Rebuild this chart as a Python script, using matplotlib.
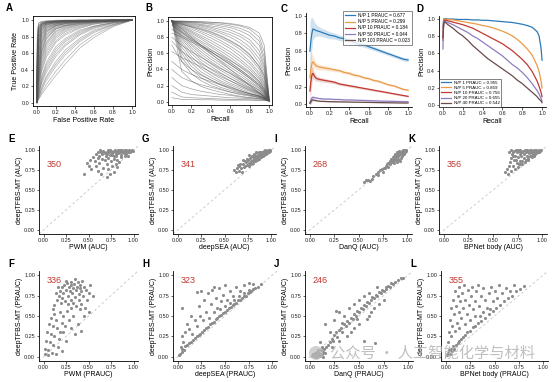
import matplotlib
matplotlib.use("Agg")
import matplotlib.pyplot as plt
from matplotlib.patches import Ellipse
import numpy as np

plt.rcParams['font.family'] = ['Liberation Sans', 'DejaVu Sans']
plt.rcParams['font.size'] = 5
plt.rcParams['axes.linewidth'] = 0.6

W, H = 554, 382
fig = plt.figure(figsize=(W / 100, H / 100), dpi=100)

# ---------------- data ----------------
# A: ROC curves (tpr at fixed fpr knots)
roc_fpr = [0, 0.005, 0.02, 0.05, 0.1, 0.2, 0.3, 0.45, 0.6, 0.8, 1.0]
roc_tpr = [
    [0, 0.88, 0.97, 0.985, 0.99, 1, 1, 1, 1, 1, 1],
    [0, 0.85, 0.96, 0.98, 0.99, 0.995, 1, 1, 1, 1, 1],
    [0, 0.80, 0.94, 0.97, 0.98, 0.99, 0.99, 1, 1, 1, 1],
    [0, 0.75, 0.93, 0.97, 0.985, 0.99, 0.995, 1, 1, 1, 1],
    [0, 0.72, 0.91, 0.965, 0.98, 0.99, 0.995, 1, 1, 1, 1],
    [0, 0.70, 0.92, 0.96, 0.98, 0.99, 0.99, 0.995, 1, 1, 1],
    [0, 0.66, 0.90, 0.955, 0.975, 0.985, 0.99, 0.995, 1, 1, 1],
    [0, 0.62, 0.88, 0.95, 0.97, 0.985, 0.99, 0.995, 1, 1, 1],
    [0, 0.60, 0.89, 0.95, 0.975, 0.985, 0.99, 0.995, 1, 1, 1],
    [0, 0.58, 0.87, 0.945, 0.97, 0.985, 0.99, 0.995, 1, 1, 1],
    [0, 0.55, 0.85, 0.94, 0.97, 0.98, 0.99, 0.99, 0.995, 1, 1],
    [0, 0.52, 0.84, 0.935, 0.965, 0.98, 0.99, 0.995, 1, 1, 1],
    [0, 0.50, 0.83, 0.93, 0.965, 0.98, 0.99, 0.99, 0.995, 1, 1],
    [0, 0.47, 0.79, 0.915, 0.955, 0.975, 0.985, 0.99, 0.995, 1, 1],
    [0, 0.45, 0.80, 0.92, 0.96, 0.98, 0.985, 0.99, 0.995, 1, 1],
    [0, 0.43, 0.78, 0.91, 0.955, 0.975, 0.985, 0.99, 0.995, 1, 1],
    [0, 0.40, 0.75, 0.90, 0.95, 0.975, 0.98, 0.99, 0.995, 1, 1],
    [0, 0.38, 0.73, 0.89, 0.945, 0.97, 0.98, 0.99, 0.995, 1, 1],
    [0, 0.36, 0.72, 0.88, 0.94, 0.97, 0.98, 0.99, 0.995, 1, 1],
    [0, 0.35, 0.70, 0.87, 0.94, 0.97, 0.98, 0.99, 0.99, 1, 1],
    [0, 0.32, 0.67, 0.86, 0.93, 0.965, 0.975, 0.985, 0.99, 1, 1],
    [0, 0.30, 0.64, 0.84, 0.92, 0.96, 0.975, 0.985, 0.99, 1, 1],
    [0, 0.28, 0.62, 0.83, 0.915, 0.955, 0.97, 0.985, 0.99, 1, 1],
    [0, 0.27, 0.61, 0.82, 0.91, 0.955, 0.97, 0.98, 0.99, 1, 1],
    [0, 0.25, 0.58, 0.80, 0.90, 0.95, 0.97, 0.98, 0.99, 1, 1],
    [0, 0.24, 0.55, 0.78, 0.89, 0.945, 0.965, 0.98, 0.99, 0.995, 1],
    [0, 0.22, 0.52, 0.76, 0.88, 0.94, 0.96, 0.98, 0.99, 0.995, 1],
    [0, 0.20, 0.49, 0.74, 0.87, 0.935, 0.96, 0.975, 0.985, 0.995, 1],
    [0, 0.19, 0.47, 0.72, 0.86, 0.93, 0.955, 0.975, 0.985, 0.995, 1],
    [0, 0.18, 0.46, 0.71, 0.85, 0.93, 0.955, 0.975, 0.985, 0.995, 1],
    [0, 0.16, 0.43, 0.68, 0.83, 0.92, 0.945, 0.97, 0.98, 0.99, 1],
    [0, 0.15, 0.40, 0.66, 0.82, 0.91, 0.94, 0.97, 0.98, 0.99, 1],
    [0, 0.14, 0.38, 0.63, 0.80, 0.90, 0.935, 0.965, 0.98, 0.99, 1],
    [0, 0.13, 0.36, 0.62, 0.78, 0.895, 0.93, 0.96, 0.98, 0.99, 1],
    [0, 0.12, 0.35, 0.60, 0.77, 0.89, 0.93, 0.96, 0.98, 0.99, 1],
    [0, 0.11, 0.32, 0.57, 0.74, 0.87, 0.92, 0.955, 0.975, 0.99, 1],
    [0, 0.10, 0.30, 0.55, 0.72, 0.86, 0.91, 0.95, 0.975, 0.99, 1],
    [0, 0.09, 0.28, 0.52, 0.70, 0.84, 0.90, 0.945, 0.97, 0.99, 1],
    [0, 0.08, 0.26, 0.49, 0.67, 0.82, 0.89, 0.94, 0.97, 0.99, 1],
    [0, 0.07, 0.24, 0.46, 0.64, 0.80, 0.875, 0.93, 0.965, 0.985, 1],
    [0, 0.06, 0.22, 0.43, 0.61, 0.78, 0.86, 0.92, 0.96, 0.985, 1],
    [0, 0.05, 0.20, 0.40, 0.58, 0.75, 0.84, 0.91, 0.955, 0.98, 1],
    [0, 0.05, 0.18, 0.37, 0.55, 0.73, 0.82, 0.90, 0.95, 0.98, 1],
    [0, 0.04, 0.15, 0.32, 0.49, 0.68, 0.78, 0.88, 0.93, 0.975, 1],
    [0, 0.03, 0.14, 0.30, 0.46, 0.65, 0.76, 0.865, 0.925, 0.97, 1],
    [0, 0.03, 0.12, 0.27, 0.43, 0.62, 0.74, 0.85, 0.92, 0.97, 1],
    [0, 0.02, 0.11, 0.25, 0.40, 0.59, 0.71, 0.835, 0.91, 0.965, 1],
    [0, 0.02, 0.10, 0.23, 0.37, 0.56, 0.69, 0.82, 0.90, 0.96, 1],
    [0, 0.02, 0.08, 0.19, 0.32, 0.50, 0.64, 0.78, 0.88, 0.95, 1],
    [0, 0.015, 0.07, 0.17, 0.30, 0.47, 0.61, 0.76, 0.865, 0.945, 1],
    [0, 0.01, 0.06, 0.15, 0.27, 0.44, 0.58, 0.74, 0.85, 0.94, 1],
    [0, 0.01, 0.05, 0.12, 0.22, 0.38, 0.52, 0.70, 0.82, 0.93, 1],
    [0, 0.01, 0.04, 0.10, 0.18, 0.33, 0.47, 0.66, 0.79, 0.92, 1],
]

# B: PR curves (precision at fixed recall knots)
pr_recall = [0, 0.1, 0.2, 0.3, 0.4, 0.5, 0.6, 0.7, 0.8, 0.9, 0.95, 1.0]
pr_precision = [
    [1.0, 1.0, 0.995, 0.99, 0.985, 0.98, 0.97, 0.95, 0.92, 0.85, 0.70, 0.05],
    [1.0, 0.998, 0.995, 0.99, 0.985, 0.975, 0.96, 0.94, 0.90, 0.80, 0.62, 0.06],
    [1.0, 0.995, 0.99, 0.98, 0.97, 0.96, 0.94, 0.91, 0.86, 0.75, 0.55, 0.03],
    [1.0, 0.99, 0.985, 0.975, 0.96, 0.94, 0.92, 0.88, 0.82, 0.70, 0.50, 0.04],
    [1.0, 0.99, 0.98, 0.96, 0.94, 0.92, 0.89, 0.84, 0.77, 0.63, 0.45, 0.03],
    [1.0, 0.985, 0.97, 0.95, 0.925, 0.895, 0.86, 0.81, 0.73, 0.58, 0.42, 0.03],
    [1.0, 0.98, 0.96, 0.94, 0.91, 0.87, 0.83, 0.77, 0.68, 0.53, 0.38, 0.02],
    [0.98, 0.96, 0.93, 0.90, 0.86, 0.81, 0.75, 0.68, 0.58, 0.44, 0.32, 0.05],
    [1.0, 0.975, 0.95, 0.925, 0.89, 0.85, 0.80, 0.73, 0.64, 0.48, 0.34, 0.02],
    [1.0, 0.97, 0.94, 0.91, 0.87, 0.82, 0.76, 0.69, 0.59, 0.43, 0.30, 0.02],
    [1.0, 0.965, 0.93, 0.89, 0.845, 0.79, 0.73, 0.65, 0.55, 0.40, 0.27, 0.02],
    [1.0, 0.96, 0.92, 0.87, 0.82, 0.76, 0.69, 0.61, 0.50, 0.36, 0.24, 0.02],
    [1.0, 0.95, 0.90, 0.85, 0.79, 0.73, 0.66, 0.57, 0.47, 0.33, 0.22, 0.02],
    [1.0, 0.94, 0.88, 0.82, 0.76, 0.69, 0.62, 0.53, 0.43, 0.30, 0.20, 0.02],
    [1.0, 0.93, 0.865, 0.80, 0.73, 0.66, 0.585, 0.50, 0.40, 0.28, 0.18, 0.02],
    [1.0, 0.92, 0.85, 0.78, 0.70, 0.63, 0.55, 0.46, 0.37, 0.25, 0.16, 0.02],
    [1.0, 0.91, 0.83, 0.75, 0.68, 0.60, 0.52, 0.43, 0.34, 0.23, 0.15, 0.02],
    [1.0, 0.90, 0.81, 0.73, 0.65, 0.57, 0.49, 0.40, 0.31, 0.21, 0.13, 0.02],
    [1.0, 0.90, 0.80, 0.70, 0.60, 0.50, 0.40, 0.30, 0.20, 0.11, 0.06, 0.01],
    [1.0, 0.88, 0.79, 0.70, 0.62, 0.54, 0.46, 0.38, 0.29, 0.19, 0.12, 0.02],
    [1.0, 0.87, 0.77, 0.68, 0.59, 0.51, 0.43, 0.35, 0.26, 0.17, 0.11, 0.02],
    [1.0, 0.86, 0.75, 0.65, 0.56, 0.48, 0.40, 0.32, 0.24, 0.16, 0.10, 0.02],
    [1.0, 0.84, 0.72, 0.62, 0.53, 0.45, 0.37, 0.29, 0.22, 0.14, 0.09, 0.02],
    [1.0, 0.82, 0.70, 0.59, 0.50, 0.42, 0.35, 0.27, 0.20, 0.12, 0.08, 0.02],
    [1.0, 0.80, 0.67, 0.56, 0.47, 0.39, 0.32, 0.25, 0.18, 0.11, 0.07, 0.02],
    [1.0, 0.78, 0.64, 0.52, 0.44, 0.36, 0.29, 0.22, 0.16, 0.10, 0.07, 0.01],
    [1.0, 0.75, 0.60, 0.49, 0.40, 0.33, 0.26, 0.20, 0.14, 0.09, 0.06, 0.01],
    [1.0, 0.72, 0.56, 0.45, 0.36, 0.29, 0.23, 0.18, 0.13, 0.08, 0.05, 0.01],
    [1.0, 0.68, 0.52, 0.41, 0.33, 0.26, 0.21, 0.16, 0.11, 0.07, 0.05, 0.01],
    [1.0, 0.64, 0.48, 0.37, 0.30, 0.24, 0.19, 0.14, 0.10, 0.07, 0.04, 0.01],
    [1.0, 0.60, 0.44, 0.34, 0.27, 0.21, 0.16, 0.12, 0.09, 0.06, 0.04, 0.01],
    [1.0, 0.55, 0.40, 0.30, 0.23, 0.18, 0.14, 0.11, 0.08, 0.05, 0.04, 0.01],
    [1.0, 0.50, 0.35, 0.26, 0.20, 0.16, 0.12, 0.09, 0.07, 0.05, 0.03, 0.01],
    [1.0, 0.38, 0.26, 0.19, 0.15, 0.12, 0.09, 0.07, 0.05, 0.04, 0.03, 0.01],
    [0.95, 0.86, 0.78, 0.70, 0.62, 0.54, 0.46, 0.38, 0.29, 0.19, 0.12, 0.02],
    [0.90, 0.82, 0.76, 0.70, 0.64, 0.58, 0.51, 0.44, 0.36, 0.25, 0.16, 0.02],
    [0.85, 0.80, 0.74, 0.68, 0.62, 0.55, 0.48, 0.40, 0.31, 0.21, 0.14, 0.02],
    [0.80, 0.70, 0.62, 0.55, 0.48, 0.41, 0.35, 0.28, 0.21, 0.14, 0.09, 0.01],
    [0.75, 0.62, 0.54, 0.47, 0.41, 0.35, 0.29, 0.23, 0.17, 0.11, 0.07, 0.01],
    [0.70, 0.50, 0.40, 0.33, 0.27, 0.22, 0.18, 0.14, 0.10, 0.07, 0.05, 0.01],
    [0.62, 0.55, 0.49, 0.43, 0.37, 0.31, 0.26, 0.20, 0.15, 0.10, 0.06, 0.01],
    [0.50, 0.40, 0.34, 0.29, 0.25, 0.21, 0.17, 0.13, 0.10, 0.07, 0.05, 0.01],
    [0.40, 0.30, 0.25, 0.21, 0.18, 0.15, 0.12, 0.10, 0.08, 0.06, 0.04, 0.01],
    [0.30, 0.20, 0.16, 0.13, 0.11, 0.09, 0.08, 0.06, 0.05, 0.04, 0.03, 0.01],
    [0.20, 0.12, 0.09, 0.08, 0.07, 0.06, 0.05, 0.045, 0.04, 0.03, 0.025, 0.01],
    [0.12, 0.06, 0.05, 0.045, 0.04, 0.035, 0.03, 0.03, 0.025, 0.02, 0.02, 0.01],
    [0.05, 0.03, 0.03, 0.025, 0.025, 0.02, 0.02, 0.02, 0.02, 0.015, 0.015, 0.01],
]

# C: mean PR curves per N/P ratio with spread
c_recall = [0, 0.01, 0.02, 0.03, 0.05, 0.07, 0.1, 0.15, 0.2, 0.25, 0.3, 0.35, 0.4,
            0.45, 0.5, 0.55, 0.6, 0.65, 0.7, 0.75, 0.8, 0.85, 0.9, 0.95, 1.0]
c_labels = ["N/P 1 PRAUC = 0.677", "N/P 5 PRAUC = 0.299", "N/P 10 PRAUC = 0.184",
            "N/P 50 PRAUC = 0.044", "N/P 100 PRAUC = 0.023"]
c_prec = [
    [0.60, 0.72, 0.80, 0.85, 0.84, 0.83, 0.82, 0.80, 0.78, 0.77, 0.75, 0.74, 0.72,
     0.70, 0.68, 0.67, 0.65, 0.63, 0.61, 0.59, 0.57, 0.55, 0.53, 0.51, 0.50],
    [0.30, 0.40, 0.46, 0.48, 0.45, 0.43, 0.42, 0.41, 0.40, 0.39, 0.38, 0.36, 0.35,
     0.33, 0.32, 0.30, 0.29, 0.27, 0.26, 0.24, 0.22, 0.21, 0.19, 0.17, 0.16],
    [0.15, 0.26, 0.33, 0.35, 0.31, 0.29, 0.28, 0.27, 0.26, 0.25, 0.23, 0.22, 0.21,
     0.20, 0.19, 0.18, 0.17, 0.16, 0.15, 0.14, 0.13, 0.12, 0.11, 0.10, 0.09],
    [0.02, 0.05, 0.07, 0.08, 0.075, 0.07, 0.065, 0.06, 0.06, 0.055, 0.055, 0.05, 0.05,
     0.048, 0.046, 0.044, 0.042, 0.04, 0.038, 0.036, 0.035, 0.034, 0.032, 0.031, 0.03],
    [0.01, 0.03, 0.045, 0.05, 0.045, 0.04, 0.035, 0.033, 0.03, 0.029, 0.028, 0.027, 0.026,
     0.025, 0.024, 0.023, 0.022, 0.021, 0.02, 0.019, 0.018, 0.017, 0.016, 0.015, 0.015],
]
c_spread = [0.32, 0.26, 0.18, 0.12, 0.08, 0.06, 0.05, 0.045, 0.04, 0.035, 0.03, 0.03, 0.03,
            0.028, 0.026, 0.025, 0.024, 0.023, 0.022, 0.021, 0.02, 0.02, 0.02, 0.02, 0.02]
c_spread_scale = [1.0, 0.6, 0.5, 0.15, 0.1]

# D: PR curves per N/P ratio
d_recall = [0, 0.005, 0.01, 0.02, 0.05, 0.1, 0.15, 0.2, 0.25, 0.3, 0.35, 0.4, 0.45,
            0.5, 0.55, 0.6, 0.65, 0.7, 0.75, 0.8, 0.85, 0.9, 0.95, 0.97, 0.99, 1.0]
d_labels = ["N/P 1 PRAUC = 0.955", "N/P 5 PRAUC = 0.869", "N/P 10 PRAUC = 0.756",
            "N/P 20 PRAUC = 0.655", "N/P 40 PRAUC = 0.542"]
d_prec = [
    [0.90, 0.97, 1.0, 1.0, 0.995, 0.995, 0.99, 0.99, 0.99, 0.985, 0.985, 0.98, 0.98,
     0.975, 0.97, 0.965, 0.96, 0.955, 0.945, 0.935, 0.92, 0.90, 0.85, 0.80, 0.66, 0.52],
    [0.80, 0.95, 1.0, 0.99, 0.99, 0.985, 0.975, 0.965, 0.955, 0.945, 0.935, 0.92, 0.91,
     0.895, 0.875, 0.855, 0.83, 0.80, 0.76, 0.71, 0.65, 0.58, 0.46, 0.39, 0.28, 0.20],
    [0.75, 0.93, 0.98, 0.98, 0.975, 0.96, 0.945, 0.93, 0.91, 0.89, 0.86, 0.83, 0.80,
     0.77, 0.74, 0.71, 0.67, 0.63, 0.58, 0.53, 0.47, 0.39, 0.28, 0.22, 0.15, 0.10],
    [0.65, 0.88, 0.96, 0.97, 0.955, 0.93, 0.90, 0.87, 0.84, 0.80, 0.77, 0.73, 0.69,
     0.65, 0.61, 0.57, 0.52, 0.47, 0.43, 0.38, 0.32, 0.25, 0.17, 0.13, 0.08, 0.05],
    [0.78, 0.90, 0.95, 0.96, 0.93, 0.89, 0.84, 0.80, 0.75, 0.69, 0.64, 0.59, 0.54,
     0.50, 0.46, 0.42, 0.38, 0.34, 0.29, 0.25, 0.20, 0.15, 0.10, 0.07, 0.05, 0.03],
]
np_colors = ["#2b7bba", "#eb9a45", "#c0392f", "#8f7dbf", "#6b4a4a"]

# E-L: per-TF comparisons (other model on x, deepTFBS-MT on y)
pts_E = [(0.58,0.95),(0.60,0.97),(0.62,0.93),(0.64,0.98),(0.65,0.95),(0.66,0.99),(0.68,0.96),
         (0.69,0.93),(0.70,0.98),(0.71,0.95),(0.72,1.0),(0.73,0.97),(0.74,0.94),(0.75,0.99),
         (0.76,0.96),(0.77,0.98),(0.78,0.93),(0.79,1.0),(0.80,0.97),(0.81,0.95),(0.82,0.99),
         (0.83,0.96),(0.84,0.98),(0.85,1.0),(0.86,0.94),(0.87,0.97),(0.88,0.99),(0.89,0.96),
         (0.90,1.0),(0.91,0.98),(0.92,0.95),(0.93,0.99),(0.94,0.97),(0.95,1.0),(0.96,0.98),
         (0.97,0.99),(0.98,1.0),(0.99,0.99),(0.63,1.0),(0.67,0.97),(0.74,1.0),(0.78,0.99),
         (0.83,1.0),(0.87,1.0),(0.92,1.0),(0.70,0.96),(0.76,0.94),(0.81,0.92),(0.85,0.97),
         (0.89,0.98),(0.52,0.88),(0.55,0.91),(0.57,0.86),(0.60,0.90),(0.62,0.84),(0.65,0.89),
         (0.68,0.87),(0.72,0.90),(0.75,0.86),(0.78,0.89),(0.82,0.88),(0.86,0.91),(0.90,0.92),
         (0.94,0.93),(0.48,0.84),(0.58,0.80),(0.70,0.82),(0.45,0.70),(0.53,0.76),(0.60,0.74),
         (0.66,0.78),(0.72,0.76),(0.76,0.80),(0.80,0.83),(0.84,0.85),(0.74,0.70),(0.78,0.72),
         (0.70,0.66),(0.82,0.79),(0.64,0.70),(0.50,0.80)]
pts_G = [(0.60,0.75),(0.62,0.72),(0.63,0.78),(0.65,0.74),(0.66,0.80),(0.68,0.77),(0.70,0.82),
         (0.71,0.79),(0.73,0.85),(0.74,0.81),(0.75,0.88),(0.76,0.84),(0.77,0.90),(0.78,0.86),
         (0.79,0.92),(0.80,0.88),(0.81,0.91),(0.82,0.89),(0.83,0.94),(0.84,0.90),(0.85,0.93),
         (0.86,0.91),(0.86,0.96),(0.87,0.94),(0.88,0.92),(0.88,0.97),(0.89,0.95),(0.90,0.93),
         (0.90,0.98),(0.91,0.96),(0.92,0.94),(0.92,0.99),(0.93,0.97),(0.94,0.95),(0.94,0.99),
         (0.95,0.98),(0.96,0.97),(0.96,1.0),(0.97,0.98),(0.98,0.99),(0.98,1.0),(0.99,0.99),
         (0.97,1.0),(0.95,0.96),(0.93,0.95),(0.91,0.93),(0.89,0.91),(0.87,0.89),(0.85,0.88),
         (0.83,0.86),(0.80,0.84),(0.78,0.83),(0.76,0.80),(0.72,0.80),(0.69,0.72),(0.84,0.97),
         (0.82,0.95),(0.80,0.93),(0.78,0.91),(0.76,0.94),(0.74,0.89),(0.72,0.86),(0.70,0.88),
         (0.67,0.83),(0.64,0.81),(0.99,1.0),(0.96,0.99),(0.93,1.0),(0.90,0.96),(0.87,0.97)]
pts_I = [(0.56,0.60),(0.60,0.63),(0.62,0.61),(0.65,0.67),(0.68,0.70),(0.70,0.69),(0.72,0.75),
         (0.74,0.76),(0.76,0.78),(0.78,0.80),(0.79,0.82),(0.80,0.79),(0.81,0.84),(0.82,0.83),
         (0.83,0.86),(0.84,0.85),(0.85,0.88),(0.86,0.87),(0.86,0.90),(0.87,0.89),(0.88,0.92),
         (0.88,0.90),(0.89,0.93),(0.89,0.91),(0.90,0.94),(0.90,0.92),(0.91,0.95),(0.91,0.93),
         (0.92,0.96),(0.92,0.94),(0.93,0.97),(0.93,0.95),(0.94,0.98),(0.94,0.96),(0.95,0.97),
         (0.95,0.99),(0.96,0.98),(0.96,1.0),(0.97,0.99),(0.97,0.97),(0.98,1.0),(0.98,0.98),
         (0.99,0.99),(0.99,1.0),(0.90,0.85),(0.92,0.87),(0.94,0.90),(0.93,0.86),(0.95,0.92),
         (0.87,0.93),(0.85,0.91),(0.83,0.89),(0.90,0.97),(0.92,0.99),(0.88,0.95),(0.96,0.95),
         (0.97,0.95),(0.91,0.89),(0.89,0.88),(0.86,0.84),(0.84,0.88),(0.82,0.86),(0.80,0.84),
         (0.77,0.77),(0.75,0.73),(0.64,0.64),(0.58,0.62),(0.70,0.73)]
pts_K = [(0.62,0.72),(0.64,0.76),(0.65,0.70),(0.66,0.80),(0.67,0.85),(0.68,0.74),(0.68,0.90),
         (0.69,0.95),(0.70,0.80),(0.70,0.98),(0.71,0.88),(0.72,0.76),(0.72,0.93),(0.73,1.0),
         (0.74,0.84),(0.74,0.97),(0.75,0.79),(0.75,0.91),(0.76,0.99),(0.77,0.86),(0.77,0.95),
         (0.78,0.82),(0.78,1.0),(0.79,0.92),(0.80,0.97),(0.80,0.86),(0.81,0.99),(0.82,0.90),
         (0.82,0.95),(0.83,1.0),(0.84,0.88),(0.84,0.97),(0.85,0.93),(0.86,0.99),(0.86,0.90),
         (0.87,0.96),(0.88,1.0),(0.88,0.92),(0.89,0.97),(0.90,0.94),(0.90,0.99),(0.91,0.96),
         (0.92,1.0),(0.92,0.93),(0.93,0.98),(0.94,0.96),(0.94,1.0),(0.95,0.98),(0.96,0.99),
         (0.97,0.98),(0.97,1.0),(0.98,0.99),(0.99,1.0),(0.66,0.98),(0.68,1.0),(0.71,0.99),
         (0.75,1.0),(0.79,0.98),(0.85,1.0),(0.89,1.0),(0.93,0.95),(0.96,0.97),(0.70,0.92),
         (0.73,0.87),(0.76,0.83),(0.80,0.82),(0.83,0.85),(0.86,0.87),(0.90,0.91)]
pts_F = [(0.18,0.80),(0.20,0.85),(0.22,0.78),(0.23,0.88),(0.25,0.82),(0.26,0.90),(0.27,0.75),
         (0.28,0.85),(0.29,0.80),(0.30,0.88),(0.31,0.92),(0.32,0.78),(0.33,0.84),(0.34,0.89),
         (0.35,0.73),(0.36,0.82),(0.37,0.86),(0.38,0.91),(0.39,0.77),(0.40,0.84),(0.41,0.88),
         (0.42,0.80),(0.43,0.93),(0.44,0.75),(0.45,0.86),(0.47,0.82),(0.48,0.70),(0.50,0.78),
         (0.52,0.88),(0.55,0.75),(0.21,0.72),(0.24,0.68),(0.27,0.65),(0.30,0.70),(0.33,0.66),
         (0.36,0.62),(0.39,0.70),(0.42,0.65),(0.17,0.74),(0.19,0.66),(0.15,0.70),(0.14,0.78),
         (0.16,0.86),(0.12,0.64),(0.25,0.93),(0.35,0.95),(0.30,0.60),(0.46,0.60),(0.10,0.58),
         (0.12,0.52),(0.08,0.48),(0.14,0.45),(0.18,0.55),(0.22,0.50),(0.26,0.56),(0.06,0.40),
         (0.10,0.38),(0.15,0.35),(0.20,0.42),(0.28,0.45),(0.33,0.50),(0.38,0.40),(0.04,0.30),
         (0.08,0.28),(0.12,0.25),(0.17,0.22),(0.22,0.30),(0.30,0.35),(0.03,0.20),(0.07,0.18),
         (0.11,0.15),(0.16,0.12),(0.25,0.20),(0.35,0.28),(0.02,0.10),(0.05,0.08),(0.09,0.05),
         (0.14,0.04),(0.02,0.03),(0.05,0.02),(0.20,0.07),(0.42,0.32),(0.45,0.50),(0.50,0.55),
         (0.40,0.58),(0.24,0.38),(0.18,0.30)]
pts_H = [(0.02,0.04),(0.04,0.06),(0.05,0.10),(0.07,0.09),(0.08,0.13),(0.10,0.14),(0.12,0.17),
         (0.14,0.18),(0.16,0.21),(0.18,0.23),(0.20,0.25),(0.22,0.27),(0.24,0.28),(0.26,0.31),
         (0.28,0.33),(0.30,0.35),(0.32,0.36),(0.34,0.40),(0.36,0.41),(0.38,0.43),(0.40,0.46),
         (0.42,0.47),(0.44,0.50),(0.46,0.51),(0.48,0.54),(0.50,0.55),(0.52,0.57),(0.54,0.60),
         (0.56,0.61),(0.58,0.63),(0.60,0.65),(0.62,0.66),(0.64,0.69),(0.66,0.70),(0.68,0.72),
         (0.70,0.74),(0.72,0.75),(0.74,0.78),(0.76,0.79),(0.78,0.81),(0.80,0.83),(0.82,0.84),
         (0.85,0.86),(0.88,0.89),(0.60,0.70),(0.65,0.74),(0.70,0.78),(0.75,0.82),(0.55,0.66),
         (0.50,0.62),(0.45,0.58),(0.05,0.25),(0.06,0.18),(0.08,0.30),(0.10,0.40),(0.12,0.34),
         (0.14,0.50),(0.15,0.28),(0.18,0.45),(0.20,0.38),(0.22,0.62),(0.24,0.50),(0.25,0.80),
         (0.27,0.45),(0.28,0.70),(0.30,0.55),(0.32,0.78),(0.33,0.48),(0.35,0.65),(0.36,0.82),
         (0.38,0.55),(0.40,0.72),(0.42,0.60),(0.44,0.84),(0.46,0.68),(0.48,0.76),(0.50,0.88),
         (0.52,0.70),(0.55,0.80),(0.58,0.74),(0.62,0.86),(0.66,0.80),(0.70,0.88),(0.75,0.90),
         (0.80,0.89),(0.04,0.60),(0.03,0.12),(0.01,0.02),(0.20,0.79),(0.38,0.86)]
pts_J = [(0.02,0.01),(0.03,0.03),(0.04,0.02),(0.05,0.05),(0.06,0.03),(0.07,0.06),(0.08,0.02),
         (0.09,0.05),(0.10,0.04),(0.11,0.08),(0.12,0.03),(0.13,0.06),(0.14,0.10),(0.15,0.05),
         (0.16,0.12),(0.18,0.15),(0.20,0.18),(0.22,0.22),(0.24,0.20),(0.25,0.27),(0.27,0.30),
         (0.28,0.24),(0.30,0.33),(0.32,0.35),(0.33,0.30),(0.35,0.40),(0.37,0.38),(0.38,0.44),
         (0.40,0.42),(0.42,0.48),(0.44,0.46),(0.45,0.52),(0.47,0.50),(0.48,0.56),(0.50,0.55),
         (0.52,0.60),(0.54,0.58),(0.55,0.64),(0.57,0.62),(0.58,0.67),(0.60,0.66),(0.62,0.70),
         (0.63,0.73),(0.65,0.72),(0.67,0.76),(0.68,0.74),(0.70,0.79),(0.72,0.78),(0.73,0.82),
         (0.75,0.81),(0.77,0.85),(0.78,0.83),(0.80,0.87),(0.82,0.86),(0.83,0.90),(0.85,0.89),
         (0.87,0.92),(0.90,0.94),(0.93,0.96),(0.95,0.97),(0.15,0.40),(0.20,0.30),(0.25,0.45),
         (0.30,0.55),(0.35,0.50),(0.40,0.60),(0.30,0.20),(0.38,0.25),(0.45,0.35),(0.50,0.40),
         (0.55,0.20),(0.60,0.50),(0.62,0.55),(0.45,0.65),(0.50,0.70),(0.55,0.75),(0.58,0.46),
         (0.65,0.60),(0.70,0.65),(0.75,0.70),(0.42,0.30),(0.10,0.18),(0.22,0.12),(0.33,0.42),
         (0.48,0.46),(0.68,0.85),(0.60,0.78),(0.12,0.12),(0.08,0.09),(0.05,0.00),(0.10,0.01),
         (0.13,0.00),(0.07,0.00),(0.66,0.17),(0.27,0.56)]
pts_L = [(0.01,0.02),(0.02,0.05),(0.03,0.08),(0.04,0.04),(0.05,0.10),(0.06,0.07),(0.07,0.13),
         (0.08,0.10),(0.10,0.15),(0.12,0.17),(0.14,0.20),(0.16,0.22),(0.18,0.24),(0.20,0.27),
         (0.22,0.30),(0.25,0.32),(0.28,0.36),(0.30,0.38),(0.33,0.42),(0.36,0.44),(0.40,0.48),
         (0.44,0.52),(0.48,0.56),(0.52,0.60),(0.56,0.64),(0.60,0.68),(0.64,0.72),(0.68,0.75),
         (0.72,0.80),(0.76,0.83),(0.80,0.87),(0.03,0.30),(0.04,0.45),(0.05,0.60),(0.06,0.38),
         (0.07,0.70),(0.08,0.52),(0.09,0.80),(0.10,0.62),(0.11,0.42),(0.12,0.75),(0.13,0.55),
         (0.14,0.85),(0.15,0.68),(0.16,0.48),(0.17,0.78),(0.18,0.60),(0.19,0.88),(0.20,0.70),
         (0.22,0.52),(0.23,0.82),(0.24,0.64),(0.26,0.74),(0.27,0.86),(0.28,0.58),(0.30,0.68),
         (0.31,0.80),(0.33,0.88),(0.34,0.62),(0.36,0.75),(0.38,0.84),(0.40,0.70),(0.42,0.60),
         (0.44,0.78),(0.46,0.86),(0.48,0.68),(0.50,0.80),(0.53,0.72),(0.55,0.88),(0.58,0.78),
         (0.62,0.84),(0.66,0.80),(0.70,0.88),(0.25,0.45),(0.35,0.50),(0.45,0.58),(0.02,0.18),
         (0.05,0.25),(0.09,0.32),(0.13,0.35),(0.20,0.40),(0.30,0.50),(0.38,0.55)]

scatter_panels = [
    # letter, points, xlabel, ylabel, count, pixel box (left, top, right, bottom)
    ("E", pts_E, "PWM (AUC)", "deepTFBS-MT (AUC)", "350", (39, 146, 138, 234)),
    ("G", pts_G, "deepSEA (AUC)", "deepTFBS-MT (AUC)", "341", (173, 146, 276, 234)),
    ("I", pts_I, "DanQ (AUC)", "deepTFBS-MT (AUC)", "268", (305, 146, 412, 234)),
    ("K", pts_K, "BPNet body (AUC)", "deepTFBS-MT (AUC)", "356", (439, 146, 547, 234)),
    ("F", pts_F, "PWM (PRAUC)", "deepTFBS-MT (PRAUC)", "336", (39, 271, 138, 361)),
    ("H", pts_H, "deepSEA (PRAUC)", "deepTFBS-MT (PRAUC)", "323", (173, 271, 277, 361)),
    ("J", pts_J, "DanQ (PRAUC)", "deepTFBS-MT (PRAUC)", "246", (305, 271, 413, 361)),
    ("L", pts_L, "BPNet body (PRAUC)", "deepTFBS-MT (PRAUC)", "355", (441, 271, 548, 361)),
]

# ---------------- helpers ----------------
def px_axes(l, t, r, b):
    return fig.add_axes([l / W, 1 - b / H, (r - l) / W, (b - t) / H])

def style(ax, box=False):
    for s in ("top", "right"):
        ax.spines[s].set_visible(box)
    ax.tick_params(length=1.8, width=0.5, pad=1, labelsize=4, colors="#222222")

def letter(x, y, s):
    fig.text(x / W, 1 - y / H, s, fontsize=7, fontweight="bold", va="center")

ticks1 = [0, 0.2, 0.4, 0.6, 0.8, 1.0]

# ---------------- A ----------------
ax = px_axes(33, 16, 135, 106)
style(ax, box=True)
for tpr in roc_tpr:
    ax.plot(roc_fpr, tpr, color="#555555", lw=0.45, alpha=0.5)
ax.set_xlim(-0.04, 1.03)
ax.set_ylim(-0.04, 1.05)
ax.set_xticks(ticks1)
ax.set_yticks(ticks1)
ax.set_xlabel("False Positive Rate", fontsize=5, labelpad=1.5)
ax.set_ylabel("True Positive Rate", fontsize=5, labelpad=1.5)
letter(6, 8, "A")

# ---------------- B ----------------
ax = px_axes(168, 17, 272, 105)
style(ax, box=True)
for p in pr_precision:
    ax.plot(pr_recall, p, color="#555555", lw=0.5, alpha=0.55)
ax.set_xlim(-0.04, 1.03)
ax.set_ylim(-0.04, 1.05)
ax.set_xticks(ticks1)
ax.set_yticks(ticks1)
ax.set_xlabel("Recall", fontsize=5, labelpad=1.5)
ax.set_ylabel("Precision", fontsize=5, labelpad=1.5)
letter(145, 8, "B")

# ---------------- C ----------------
ax = px_axes(306, 13, 412, 107)
style(ax)
for prec, lab, col, sc in zip(c_prec, c_labels, np_colors, c_spread_scale):
    prec = np.array(prec)
    half = np.array(c_spread) * sc
    ax.fill_between(c_recall, np.clip(prec - half, 0, 1), np.clip(prec + half, 0, 1),
                    color=col, alpha=0.22, lw=0)
    ax.plot(c_recall, prec, color=col, lw=0.9, label=lab)
ax.set_xlim(-0.04, 1.04)
ax.set_ylim(-0.03, 1.03)
ax.set_xticks(ticks1)
ax.set_yticks(ticks1)
ax.set_xlabel("Recall", fontsize=5, labelpad=1.5)
ax.set_ylabel("Precision", fontsize=5, labelpad=1.5)
leg = ax.legend(loc="upper right", bbox_to_anchor=(1.0, 1.02), fontsize=3.4,
                handlelength=2.2, handletextpad=0.6, borderpad=0.4, labelspacing=0.25,
                frameon=True, fancybox=False, borderaxespad=0)
leg.get_frame().set_edgecolor("#555555")
leg.get_frame().set_linewidth(0.6)
letter(281, 9, "C")

# ---------------- D ----------------
ax = px_axes(439, 16, 546, 107)
style(ax)
for prec, lab, col in zip(d_prec, d_labels, np_colors):
    ax.plot(d_recall, prec, color=col, lw=0.9, label=lab)
ax.set_xlim(-0.04, 1.04)
ax.set_ylim(-0.02, 1.03)
ax.set_xticks(ticks1)
ax.set_yticks(ticks1)
ax.set_xlabel("Recall", fontsize=5, labelpad=1.5)
ax.set_ylabel("Precision", fontsize=5, labelpad=1.5)
leg = ax.legend(loc="lower left", bbox_to_anchor=(0.0, 0.0), fontsize=3.2,
                handlelength=2.4, handletextpad=0.6, borderpad=0.35, labelspacing=0.25,
                frameon=True, fancybox=False, borderaxespad=0)
leg.get_frame().set_edgecolor("#222222")
leg.get_frame().set_linewidth(0.5)
letter(416, 9, "D")

# ---------------- E-L ----------------
ticks4 = [0, 0.25, 0.5, 0.75, 1.0]
for let, pts, xl, yl, cnt, box in scatter_panels:
    ax = px_axes(*box)
    style(ax)
    xs, ys = np.array(pts).T
    ax.axline((0, 0), (1, 1), ls=(0, (3, 3)), color="#c4c4c4", lw=0.6, zorder=1)
    ax.scatter(xs, ys, s=5, color="#8c8c8c", linewidths=0, zorder=2)
    ax.set_xlim(-0.05, 1.05)
    ax.set_ylim(-0.05, 1.05)
    ax.set_xticks(ticks4)
    ax.set_yticks(ticks4)
    ax.set_xticklabels(["0.00", "0.25", "0.50", "0.75", "1.00"])
    ax.set_yticklabels(["0.00", "0.25", "0.50", "0.75", "1.00"])
    ax.set_xlabel(xl, fontsize=5, labelpad=0.8)
    ax.set_ylabel(yl, fontsize=5, labelpad=1)
    ty = 0.82 if "(AUC)" in xl else 0.93
    ax.text(0.03, ty, cnt, color="#c0392f", fontsize=6.5, va="center", ha="left")
    letter(box[0] - 31, box[1] - 7, let)

# watermark
fig.patches.append(Ellipse((316 / W, 1 - 353 / H), 14 / W, 14 / H, transform=fig.transFigure,
                           facecolor="#bdbdbd", edgecolor="none", alpha=0.7))
fig.text(330 / W, 1 - 353 / H, "公众号 · 人工智能化学与材料",
         family=["Noto Sans CJK SC", "DejaVu Sans"], fontsize=11,
         color="#b0b0b0", alpha=0.8, va="center")

fig.savefig("out.png", dpi=100)
